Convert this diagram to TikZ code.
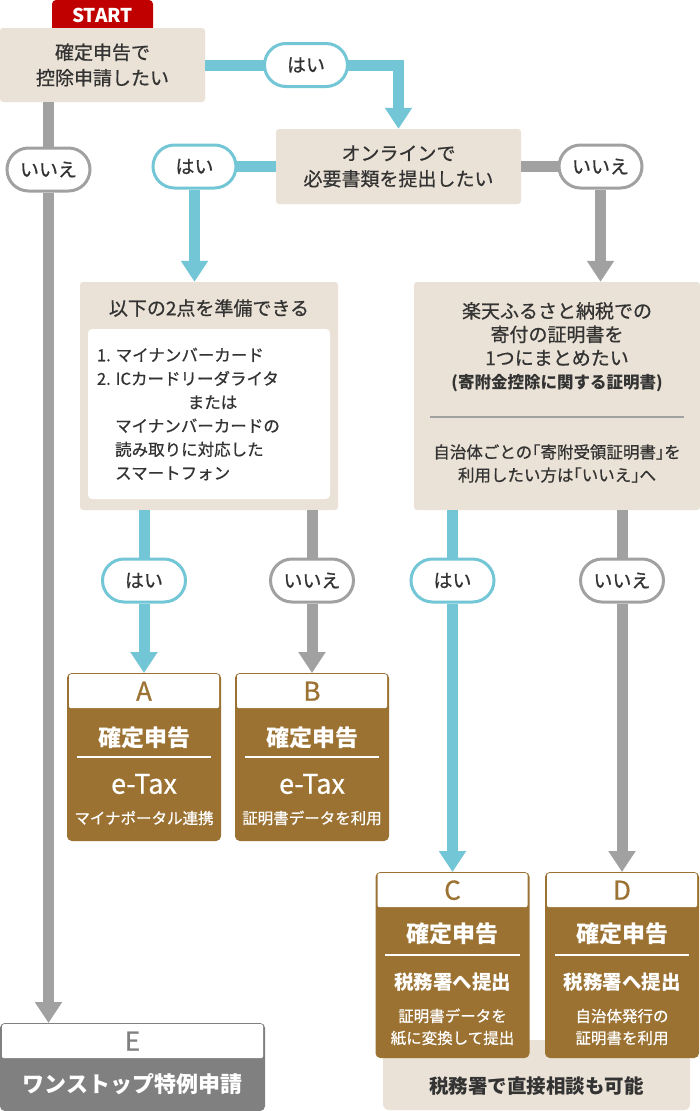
\documentclass[tikz,border=0pt]{standalone}
\usepackage{fontspec}
\setmainfont{Noto Sans CJK JP}[UprightFeatures={FakeBold=0.7}]
\usetikzlibrary{arrows.meta, positioning}
\definecolor{flowbeige}{RGB}{234,226,214}
\definecolor{flowblue}{RGB}{114,198,213}
\definecolor{flowgrey}{RGB}{161,161,161}
\definecolor{flowbrown}{RGB}{155,114,50}
\definecolor{flowred}{RGB}{192,0,0}
\definecolor{flowdark}{RGB}{128,128,128}
\definecolor{flowtext}{RGB}{51,51,51}
\newcommand{\fs}[2]{\fontsize{#1}{#2}\selectfont}
\newcommand{\halfbr}[1]{{\addfontfeatures{RawFeature=+halt}#1}}

\begin{document}
\begin{tikzpicture}[x=1pt, y=-1pt,
    qbox/.style={rectangle, fill=flowbeige, rounded corners=3pt, align=center, text=flowtext, font=\fs{19}{25.5}},
    qtext/.style={align=center, text=flowtext, inner sep=0pt, font=\fs{19}{23.5}},
    listbox/.style={rectangle, fill=white, rounded corners=4pt, text width=224pt, inner xsep=9pt, minimum height=170pt, align=left, text=flowtext, font=\fs{16.5}{23.6}},
    pill/.style={rectangle, draw=#1, fill=white, line width=3pt, rounded corners=21.5pt, minimum width=83pt, minimum height=43pt, inner sep=0pt, text=flowtext, font=\fs{19}{19}},
    starttab/.style={rectangle, fill=flowred, rounded corners=4pt, minimum width=101pt, minimum height=32pt, text=white, font=\bfseries\fs{19}{19}},
    card/.style={rectangle, draw=#1, fill=#1, line width=2pt, rounded corners=4pt, minimum width=152pt, minimum height=166pt},
    cardhead/.style={rectangle, fill=white, rounded corners=2pt, minimum width=150pt, minimum height=34pt, inner sep=0pt, text=#1, font=\fs{26}{26}},
    cardtitle/.style={text=white, inner sep=0pt, minimum width=134pt, minimum height=38pt, font=\bfseries\fs{23}{23}},
    cardrule/.style={draw=white, line width=2.5pt},
    cardsub/.style={text=white, inner sep=0pt, font=\fs{27}{27}},
    cardsubj/.style={text=white, inner sep=0pt, font=\bfseries\fs{19.5}{19.5}},
    cardnote/.style={text=white, inner sep=0pt, align=center, font=\fs{15.5}{22}},
    yesline/.style={draw=flowblue, line width=11pt},
    noline/.style={draw=flowgrey, line width=11pt},
    flowtip/.style={-{Triangle[width=26pt, length=21pt]}}
  ]
  \useasboundingbox (0,0) rectangle (700,1111);

  % questions
  \node[starttab] (start) at (102.5,16) {\raisebox{1.5pt}{START}};
  \node[qbox, minimum width=205pt, minimum height=74pt] (q1) at (102.5,65) {確定申告で\\控除申請したい};
  \node[qbox, minimum width=245pt, minimum height=75pt] (q2) at (398.5,166.5) {オンラインで\\必要書類を提出したい};

  \node[qbox, minimum width=258pt, minimum height=228pt] (q3) at (209,396) {};
  \node[qtext] (q3title) at (209,308) {以下の2点を準備できる};
  \node[listbox] (q3list) at (209,414) {1.\hspace{0.3em}マイナンバーカード\\
    2.\hspace{0.3em}ICカードリーダライタ\\
    \hspace*{5.5em}または\\
    \hspace*{1.1em}マイナンバーカードの\\
    \hspace*{1.1em}読み取りに対応した\\
    \hspace*{1.1em}スマートフォン};

  \node[qbox, minimum width=286pt, minimum height=228pt] (q4) at (557,396) {};
  \node[qtext] (q4top) at (557,347) {楽天ふるさと納税での\\寄付の証明書を\\1つにまとめたい\\{\bfseries\fs{16.5}{23.5}(寄附金控除に関する証明書)}};
  \draw[flowgrey, line width=1.5pt] (430,417) -- (684,417);
  \node[qtext, font=\fs{16.5}{23}] (q4note) at (557,463.5) {自治体ごとの\halfbr{「}寄附受領証明書\halfbr{」}を\\利用したい方は\halfbr{「}いいえ\halfbr{」}へ};

  % answers
  \node[pill=flowblue] (p1) at (306,65) {はい};
  \node[pill=flowgrey] (p0) at (48.5,169.5) {いいえ};
  \node[pill=flowblue] (p2) at (194.5,166.5) {はい};
  \node[pill=flowgrey] (p3) at (600.5,166.5) {いいえ};
  \node[pill=flowblue] (pA) at (144,580.5) {はい};
  \node[pill=flowgrey] (pB) at (312,580.5) {いいえ};
  \node[pill=flowblue] (pC) at (452.5,580.5) {はい};
  \node[pill=flowgrey] (pD) at (622,580.5) {いいえ};

  % results
  \node[rectangle, fill=flowbeige, rounded corners=6pt, minimum width=307pt, minimum height=70pt] (note) at (536.5,1075) {};
  \node[text=flowtext, font=\bfseries\fs{19.5}{19.5}] (notelbl) at (536.5,1086) {税務署で直接相談も可能};

  \node[card=flowbrown] (cA) at (144,757) {};
  \node[cardhead=flowbrown, below=1pt of cA.north] (cAh) {A};
  \node[cardtitle] (tA) at (144,738) {確定申告};
  \draw[cardrule] (tA.south west) -- (tA.south east);
  \node[cardsub] (sA) at (144,784) {e-Tax};
  \node[cardnote] (nA) at (144,818) {マイナポータル連携};

  \node[card=flowbrown] (cB) at (312,757) {};
  \node[cardhead=flowbrown, below=1pt of cB.north] (cBh) {B};
  \node[cardtitle] (tB) at (312,738) {確定申告};
  \draw[cardrule] (tB.south west) -- (tB.south east);
  \node[cardsub] (sB) at (312,784) {e-Tax};
  \node[cardnote] (nB) at (312,818) {証明書データを利用};

  \node[card=flowbrown, minimum height=184pt] (cC) at (452.5,965) {};
  \node[cardhead=flowbrown, below=1pt of cC.north] (cCh) {C};
  \node[cardtitle, minimum height=42pt] (tC) at (452.5,934) {確定申告};
  \draw[cardrule] (tC.south west) -- (tC.south east);
  \node[cardsubj] (sC) at (452.5,982) {税務署へ提出};
  \node[cardnote] (nC) at (452.5,1027) {証明書データを\\紙に変換して提出};

  \node[card=flowbrown, minimum height=184pt] (cD) at (622,965) {};
  \node[cardhead=flowbrown, below=1pt of cD.north] (cDh) {D};
  \node[cardtitle, minimum height=42pt] (tD) at (622,934) {確定申告};
  \draw[cardrule] (tD.south west) -- (tD.south east);
  \node[cardsubj] (sD) at (622,982) {税務署へ提出};
  \node[cardnote] (nD) at (622,1027) {自治体発行の\\証明書を利用};

  \node[card=flowdark, minimum width=263pt, minimum height=86pt] (cE) at (132.5,1067) {};
  \node[cardhead=flowdark, minimum width=261pt, below=1pt of cE.north] (cEh) {E};
  \node[text=white, font=\bfseries\fs{22}{22}] (tE) at (132.5,1084) {ワンストップ特例申請};

  % connectors
  \draw[yesline, shorten >=-1.5pt] (q1) -- (p1);
  \draw[yesline, flowtip, shorten <=-1.5pt] (p1) -| (q2);
  \draw[noline] (q1.south -| p0) -- (p0);
  \draw[noline, flowtip] (p0) -- (p0 |- cE.north);
  \draw[yesline, shorten >=-1.5pt] (q2) -- (p2);
  \draw[yesline, flowtip] (p2) -- (p2 |- q3.north);
  \draw[noline, shorten >=-1.5pt] (q2) -- (p3);
  \draw[noline, flowtip] (p3) -- (p3 |- q4.north);

  \draw[yesline] (q3.south -| pA) -- (pA);
  \draw[yesline, flowtip] (pA) -- (cA);
  \draw[noline] (q3.south -| pB) -- (pB);
  \draw[noline, flowtip] (pB) -- (cB);
  \draw[yesline] (q4.south -| pC) -- (pC);
  \draw[yesline, flowtip] (pC) -- (cC);
  \draw[noline] (q4.south -| pD) -- (pD);
  \draw[noline, flowtip] (pD) -- (cD);
\end{tikzpicture}
\end{document}
